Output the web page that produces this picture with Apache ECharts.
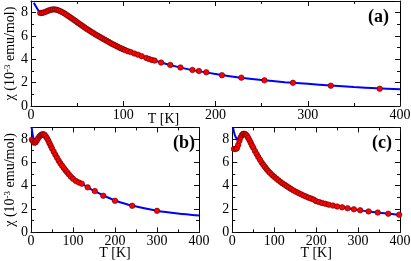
<!DOCTYPE html>
<html>
<head>
<meta charset="utf-8">
<script src="https://cdn.jsdelivr.net/npm/echarts@6/dist/echarts.min.js"></script>
<style>html,body{margin:0;padding:0;background:#fff;}#c{width:411px;height:261px;}</style>
</head>
<body>
<div id="c"></div>
<script>
// ---- data ----
const xTicks = [0, 100, 200, 300, 400];
const yTicks = [0, 2, 4, 6, 8];

// panel (a)
const aDotT = [10,12,14,16,18,20,22,24,26,28,30,32,34,36,38,40,42,44,46,48,50,52,54,56,58,60,62,64,66,68,70,72,74,76,78,80,82,84,86,88,90,92,94,96,98,100,102,105,108,112,116,120,125,128,131,134,141,151,162,175,182,190,207,228,253,284,325,378];
const aDotY = [7.97,7.98,8.02,8.08,8.15,8.21,8.26,8.28,8.28,8.24,8.19,8.12,8.04,7.95,7.85,7.74,7.63,7.52,7.41,7.30,7.18,7.07,6.96,6.85,6.74,6.63,6.53,6.43,6.33,6.23,6.13,6.04,5.95,5.86,5.77,5.68,5.59,5.50,5.41,5.32,5.24,5.16,5.08,5.00,4.93,4.86,4.79,4.70,4.62,4.50,4.40,4.27,4.12,4.02,3.95,3.89,3.72,3.52,3.30,3.09,3.00,2.89,2.64,2.43,2.20,1.99,1.74,1.48];
const aLineT = [3,6,9,12,16,20,25,30,35,40,50,60,70,80,90,100,120,140,160,180,200,225,250,275,300,325,350,375,400];
const aLineY = [8.85,8.45,8.1,7.98,8.08,8.21,8.28,8.2,8.0,7.74,7.18,6.63,6.13,5.68,5.24,4.86,4.27,3.75,3.33,3.01,2.74,2.45,2.22,2.04,1.9,1.76,1.63,1.52,1.43];

// panel (b)
const bDotT = [2,5,8,11,14,17,20,23,26,29,32,35,38,41,44,47,50,54,58,62,66,70,74,78,82,86,90,95,100,107,114,121,135,152,172,200,241,300];
const bDotY = [7.95,7.8,7.68,7.72,7.88,8.07,8.22,8.33,8.4,8.42,8.38,8.25,8.08,7.88,7.65,7.42,7.2,6.92,6.65,6.4,6.15,5.92,5.72,5.52,5.33,5.15,4.98,4.78,4.6,4.4,4.28,4.18,3.86,3.54,3.14,2.71,2.28,1.85];
const bLineT = [1.5,3,5,8,11,15,20,25,30,35,40,50,60,70,80,90,100,120,140,160,180,200,240,300,350,400];
const bLineY = [9.0,8.6,8.2,7.85,7.75,7.93,8.2,8.38,8.42,8.27,7.95,7.22,6.55,5.95,5.43,5.0,4.62,4.2,3.76,3.38,3.04,2.74,2.3,1.86,1.62,1.45];

// panel (c)
const cDotT = [4,8,11,14,17,20,23,26,29,32,35,38,41,44,47,50,54,58,62,66,70,74,78,82,86,90,95,100,105,110,115,120,125,130,135,140,146,152,158,164,170,176,182,188,194,200,207,214,222,230,240,250,262,275,290,305,325,347,372,398];
const cDotY = [7.15,7.15,7.22,7.5,7.85,8.15,8.35,8.45,8.45,8.4,8.28,8.1,7.9,7.68,7.45,7.25,6.98,6.72,6.47,6.23,6.0,5.79,5.6,5.42,5.25,5.1,4.92,4.76,4.61,4.47,4.33,4.2,4.08,3.96,3.84,3.73,3.6,3.48,3.37,3.26,3.16,3.07,2.98,2.9,2.82,2.68,2.6,2.53,2.45,2.38,2.3,2.22,2.15,2.07,1.98,1.9,1.8,1.7,1.6,1.52];
const cLineT = [2,4,7,10,14,18,22,26,30,35,40,50,60,70,80,90,100,120,140,160,180,200,225,250,275,300,325,350,375,400];
const cLineY = [8.95,8.6,8.25,8.08,8.05,8.1,8.3,8.43,8.44,8.3,7.97,7.25,6.6,6.0,5.51,5.1,4.76,4.2,3.73,3.34,3.0,2.7,2.44,2.23,2.07,1.93,1.8,1.69,1.59,1.5];

const panelNames = ['(a)', '(b)', '(c)'];
const xName = 'T [K]';

// ---- chart ----
const FONT = 'Liberation Serif';
const zip = (t, v) => t.map((x, i) => [x, v[i]]);
const black = '#000';
const tickColor = '#111';

const grids = [], xAxes = [], yAxes = [], series = [], titles = [];
const layouts = [
  {left: 31, top: 1, width: 369, height: 105, yName: true, xNamePad: [0, 104, 0, 0], xGap: 6},
  {left: 31, top: 127.4, width: 168, height: 105, yName: true, xNamePad: [0, 0, 0, 0], xGap: 14},
  {left: 232.3, top: 127.4, width: 167.7, height: 105, yName: false, xNamePad: [0, 0, 0, 0], xGap: 14}
];
const dots = [[aDotT, aDotY], [bDotT, bDotY], [cDotT, cDotY]];
const lines = [[aLineT, aLineY], [bLineT, bLineY], [cLineT, cLineY]];

function tick(len) {
  return {show: true, inside: true, length: len, lineStyle: {color: tickColor, width: 1}};
}

layouts.forEach((L, g) => {
  grids.push({left: L.left, top: L.top, width: L.width, height: L.height, outerBoundsMode: 'none'});
  const xMin = xTicks[0], xMax = xTicks[xTicks.length - 1], xInt = xTicks[1] - xTicks[0];
  const xi = xAxes.length;
  xAxes.push({gridIndex: g, type: 'value', position: 'bottom', min: xMin, max: xMax, interval: xInt,
    splitLine: {show: false},
    axisLine: {show: true, onZero: false, lineStyle: {color: black, width: 1}},
    axisTick: tick(5),
    axisLabel: {show: true, fontFamily: FONT, fontSize: 14, color: black, margin: 2},
    name: xName, nameLocation: 'middle', nameGap: L.xGap, nameMoveOverlap: false,
    nameTextStyle: {fontFamily: FONT, fontSize: 14, color: black, padding: L.xNamePad}});
  xAxes.push({gridIndex: g, type: 'value', position: 'top', min: xMin, max: xMax, interval: xInt,
    splitLine: {show: false},
    axisLine: {show: true, onZero: false, lineStyle: {color: black, width: 1}},
    axisTick: tick(5), axisLabel: {show: false}});
  ['bottom', 'top'].forEach(p => xAxes.push({gridIndex: g, type: 'value', position: p, min: xMin, max: xMax,
    interval: xInt / 2, splitLine: {show: false}, axisLine: {show: false, onZero: false},
    axisTick: tick(3), axisLabel: {show: false}}));

  const yi = yAxes.length;
  const yMain = {gridIndex: g, type: 'value', position: 'left', min: 0, max: 9, interval: yTicks[1] - yTicks[0],
    splitLine: {show: false},
    axisLine: {show: true, onZero: false, lineStyle: {color: black, width: 1}},
    axisTick: tick(5),
    axisLabel: {show: true, fontFamily: FONT, fontSize: 14, color: black, margin: 3,
      formatter: v => (yTicks.indexOf(v) >= 0 ? String(v) : '')}};
  if (L.yName) {
    Object.assign(yMain, {name: '{a|χ (10}{s|-3}{a| emu/mol)}', nameLocation: 'middle', nameGap: 14,
      nameMoveOverlap: false,
      nameTextStyle: {color: black, rich: {
        a: {fontFamily: FONT, fontSize: 14, color: black},
        s: {fontFamily: FONT, fontSize: 9, color: black, verticalAlign: 'top'}}}});
  }
  yAxes.push(yMain);
  yAxes.push({gridIndex: g, type: 'value', position: 'right', min: 0, max: 9, interval: yTicks[1] - yTicks[0],
    splitLine: {show: false},
    axisLine: {show: true, onZero: false, lineStyle: {color: black, width: 1}},
    axisTick: tick(5), axisLabel: {show: false}});
  ['left', 'right'].forEach(p => yAxes.push({gridIndex: g, type: 'value', position: p, min: 0, max: 9,
    interval: (yTicks[1] - yTicks[0]) / 2, splitLine: {show: false}, axisLine: {show: false, onZero: false},
    axisTick: tick(3), axisLabel: {show: false}}));

  series.push({type: 'line', xAxisIndex: xi, yAxisIndex: yi, data: zip(lines[g][0], lines[g][1]),
    smooth: 0.3, symbol: 'none', showSymbol: false, clip: true, z: 2,
    lineStyle: {color: '#0000ff', width: 2}, silent: true, animation: false});
  series.push({type: 'scatter', xAxisIndex: xi, yAxisIndex: yi, data: zip(dots[g][0], dots[g][1]),
    symbol: 'circle', symbolSize: 5.5, z: 3,
    itemStyle: {color: '#ff0000', borderColor: '#500000', borderWidth: 0.6, opacity: 1},
    silent: true, animation: false});
});

const titlePos = [
  {right: 22, top: 8},
  {right: 216, top: 134},
  {right: 19, top: 134}
];
panelNames.forEach((t, i) => {
  titles.push(Object.assign({text: t, padding: 0,
    textStyle: {fontFamily: FONT, fontSize: 18, fontWeight: 'bold', color: black}}, titlePos[i]));
});

const chart = echarts.init(document.getElementById('c'), null, {renderer: 'canvas'});
chart.setOption({
  animation: false,
  backgroundColor: '#fff',
  title: titles,
  grid: grids,
  xAxis: xAxes,
  yAxis: yAxes,
  series: series
});
</script>
</body>
</html>
